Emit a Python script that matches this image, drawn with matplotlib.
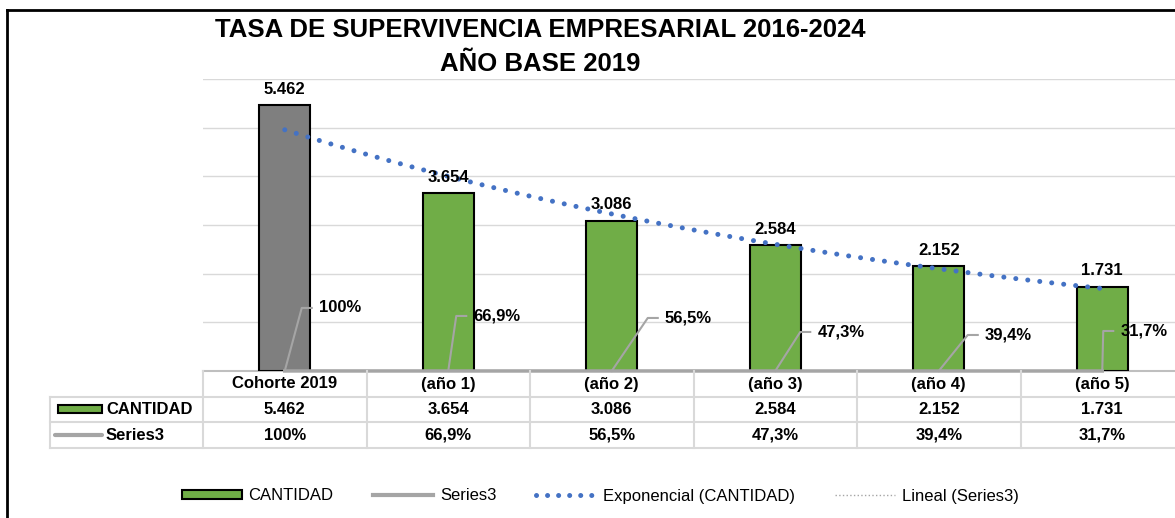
import numpy as np
import matplotlib
matplotlib.use('Agg')
import matplotlib.pyplot as plt
from matplotlib import transforms
from matplotlib.lines import Line2D
from matplotlib.patches import Patch, Rectangle

# Data
categories = ['Cohorte 2019', '(año 1)', '(año 2)', '(año 3)', '(año 4)', '(año 5)']
cantidad = [5462, 3654, 3086, 2584, 2152, 1731]
series3 = [1.0, 0.669, 0.565, 0.473, 0.394, 0.317]

# pixel offsets (dx to text left, dy up) for the Series3 labels
pct_offsets = [(34, 63), (25, 55), (53, 53), (42, 39), (46, 36), (18, 40)]


def fmt_miles(v):
    return f'{v:,}'.replace(',', '.')


def fmt_pct(v):
    p = round(v * 100, 1)
    if p == int(p):
        return f'{int(p)}%'
    return f'{p:.1f}'.replace('.', ',') + '%'


plt.rcParams['font.family'] = ['Liberation Sans', 'DejaVu Sans']

W, H = 1175, 518
fig = plt.figure(figsize=(W / 100, H / 100), dpi=100)


def fy(py):
    return 1 - py / H


def fx(px):
    return px / W


# plot area (extends slightly past the right edge, as in the source)
ax = fig.add_axes([fx(203), fy(371), 981 / W, 292 / H])
x = np.arange(len(categories))
ax.set_xlim(-0.5, 5.5)
ax.set_ylim(0, 6000)
ax.set_yticks(range(1000, 6001, 1000))
ax.yaxis.grid(True, color='#D9D9D9', lw=1)
ax.set_axisbelow(True)
ax.tick_params(left=False, labelleft=False, bottom=False, labelbottom=False)
for s in ['left', 'right', 'top']:
    ax.spines[s].set_visible(False)
ax.spines['bottom'].set_color('#BFBFBF')
ax.spines['bottom'].set_linewidth(1.5)

colors = ['#7F7F7F'] + ['#70AD47'] * (len(cantidad) - 1)
ax.bar(x, cantidad, width=0.31, color=colors, edgecolor='black', lw=1.5, zorder=3)

for i, v in enumerate(cantidad):
    ax.annotate(fmt_miles(v), (i, v), xytext=(0, 6), textcoords='offset points',
                ha='center', va='bottom', fontsize=12, fontweight='bold', zorder=6)

# Series3 plotted on the same axis (sits on the baseline)
ax.plot(x, series3, color='#A5A5A5', lw=2.5, zorder=4, clip_on=False)

# exponential trend of CANTIDAD
b, a = np.polyfit(x + 1, np.log(cantidad), 1)
xs = np.linspace(0, 5, 300)
ax.plot(xs, np.exp(a + b * (xs + 1)), color='#4472C4', lw=3.6,
        ls=(0, (0.01, 2.4)), dash_capstyle='round', zorder=5)

# linear trend of Series3
m, c = np.polyfit(x + 1, series3, 1)
ax.plot(xs, m * (xs + 1) + c, color='#A5A5A5', lw=1, ls=':', zorder=4)

# Series3 labels with leader lines
inv = fig.transFigure.inverted()
for i, v in enumerate(series3):
    px0, py0 = ax.transData.transform((i, v))
    dx, dy = pct_offsets[i]
    tx, ty = px0 + dx, py0 + dy
    pts = inv.transform([(px0, py0), (tx - 17, ty), (tx - 7, ty)])
    fig.add_artist(Line2D(pts[:, 0], pts[:, 1], color='#A5A5A5', lw=1.5, zorder=6))
    tfx, tfy = inv.transform((tx, ty))
    fig.text(tfx, tfy, fmt_pct(v), ha='left', va='center', fontsize=12,
             fontweight='bold', zorder=7)

# data table
bt = transforms.blended_transform_factory(ax.transData, fig.transFigure)
grid_c = '#D9D9D9'
rows_y = [371, 397, 422, 448]
left_x = -0.5 - (203 - 50) / 163.5
for yy in rows_y[1:]:
    fig.add_artist(Line2D([left_x, 5.5], [fy(yy), fy(yy)], transform=bt,
                          color=grid_c, lw=1.5))
fig.add_artist(Line2D([left_x, left_x], [fy(397), fy(448)], transform=bt,
                      color=grid_c, lw=1.5))
for bx in np.arange(-0.5, 6, 1.0):
    fig.add_artist(Line2D([bx, bx], [fy(371), fy(448)], transform=bt,
                          color=grid_c, lw=1.5))

for i in range(len(categories)):
    fig.text(i, fy(384), categories[i], transform=bt, ha='center', va='center',
             fontsize=12, fontweight='bold')
    fig.text(i, fy(409.5), fmt_miles(cantidad[i]), transform=bt, ha='center',
             va='center', fontsize=12, fontweight='bold')
    fig.text(i, fy(435), fmt_pct(series3[i]), transform=bt, ha='center',
             va='center', fontsize=12, fontweight='bold')

# legend keys inside the table
fig.add_artist(Rectangle((fx(58), fy(413)), 44 / W, 8 / H, transform=fig.transFigure,
                         facecolor='#70AD47', edgecolor='black', lw=1.5))
fig.text(fx(106), fy(409.5), 'CANTIDAD', ha='left', va='center', fontsize=12,
         fontweight='bold')
fig.add_artist(Line2D([fx(55), fx(102)], [fy(435), fy(435)], color='#A5A5A5', lw=3,
                      solid_capstyle='round'))
fig.text(fx(106), fy(435), 'Series3', ha='left', va='center', fontsize=12,
         fontweight='bold')

# title
fig.text(fx(540), fy(30), 'TASA DE SUPERVIVENCIA EMPRESARIAL 2016-2024',
         ha='center', va='center', fontsize=18.5, fontweight='bold')
fig.text(fx(540), fy(64), 'AÑO BASE 2019',
         ha='center', va='center', fontsize=18.5, fontweight='bold')

# bottom legend
handles = [
    Patch(facecolor='#70AD47', edgecolor='black', lw=1.5),
    Line2D([], [], color='#A5A5A5', lw=3),
    Line2D([], [], color='#4472C4', lw=3.6, ls=(0, (0.01, 2.2)), dash_capstyle='round'),
    Line2D([], [], color='#A5A5A5', lw=1, ls=':'),
]
labels = ['CANTIDAD', 'Series3', 'Exponencial (CANTIDAD)', 'Lineal (Series3)']
fig.legend(handles, labels, loc='center', bbox_to_anchor=(fx(600), fy(496)), ncol=4,
           frameon=False, handlelength=3.6, handleheight=0.5, handletextpad=0.4,
           columnspacing=2.4, prop={'size': 12})

# chart frame
fig.add_artist(Line2D([fx(7), fx(7)], [fy(10), 0], color='black', lw=2))
fig.add_artist(Line2D([fx(7), 1], [fy(10), fy(10)], color='black', lw=2))

fig.savefig('out.png', dpi=100)
